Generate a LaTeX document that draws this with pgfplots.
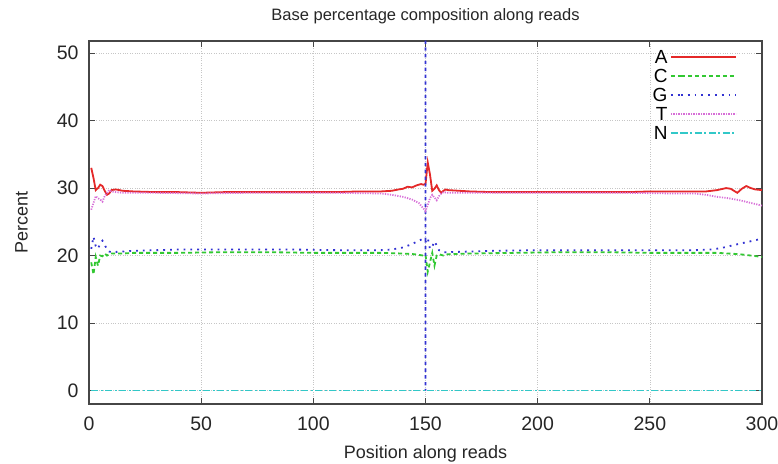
\documentclass[border=0pt]{standalone}
\usepackage{pgfplots}
\pgfplotsset{compat=1.18}
\usepackage{fontspec}
\setmainfont{Liberation Sans}
\definecolor{cA}{RGB}{228,40,40}
\definecolor{cC}{RGB}{50,200,50}
\definecolor{cG}{RGB}{50,50,210}
\definecolor{cT}{RGB}{215,110,215}
\definecolor{cN}{RGB}{50,200,200}
\definecolor{axc}{RGB}{70,70,70}
\begin{document}
\begin{tikzpicture}
\begin{axis}[
  scale only axis,
  width=673pt, height=363pt,
  xmin=0, xmax=300, ymin=-2, ymax=51.8,
  xtick={0,50,...,300}, ytick={0,10,...,50},
  tick align=inside,
  major tick length=6pt,
  every tick/.style={axc, line width=1pt},
  axis line style={axc, line width=1.6pt},
  grid=major,
  major grid style={gray!45, dotted, line width=0.6pt},
  /pgf/number format/assume math mode=true,
  tick label style={font=\fontsize{19.5}{19.5}\selectfont, text=black!85},
  xticklabel style={yshift=-9pt},
  yticklabel style={xshift=-7pt},
  title={Base percentage composition along reads},
  title style={font=\fontsize{16.5}{17}\selectfont, text=black!85, yshift=8pt},
  xlabel={Position along reads},
  ylabel={Percent},
  label style={font=\fontsize{18}{18}\selectfont, text=black!85},
  xlabel style={yshift=-8pt},
  ylabel style={yshift=22pt},
  legend plot pos=right,
  legend cell align=right,
  legend style={at={(1,1)}, anchor=north east, xshift=-22pt, yshift=-4pt,
    draw=none, fill=none, font=\fontsize{19}{19}\selectfont,
    row sep=0pt, nodes={inner sep=2.5pt, text height=14pt, text depth=0pt}},
  legend image code/.code={\path (0pt,0pt) -- (10pt,0pt);\draw[#1] (10pt,0pt) -- (65pt,0pt);},
]
\addplot[cA, line width=1.8pt] coordinates {
(1,33.0) (2,31.5) (3,29.7) (4,30.0) (5,30.5) (6,30.3) (7,29.6) (8,29.0) (9,29.2) (10,29.7)
(12,29.8) (15,29.6) (20,29.5) (30,29.4) (40,29.4) (50,29.3) (60,29.4) (70,29.4) (80,29.4)
(90,29.4) (100,29.4) (110,29.4) (120,29.5) (130,29.5) (135,29.6) (138,29.8) (140,29.9)
(142,30.2) (144,30.1) (146,30.4) (148,30.6) (149,30.5) (150,30.6) (151,33.8) (152,32.0)
(153,29.6) (154,29.9) (155,30.4) (156,29.7) (157,29.3) (158,29.6) (159,29.8) (160,29.7)
(165,29.6) (170,29.5) (180,29.4) (190,29.4) (200,29.4) (210,29.4) (220,29.4) (230,29.4)
(240,29.4) (250,29.5) (260,29.5) (270,29.5) (275,29.5) (280,29.7) (284,30.0) (286,29.9)
(289,29.3) (291,29.9) (293,30.3) (295,30.0) (297,29.8) (300,29.7)
};
\addlegendentry{A}
\addplot[color=cC, line width=1.8pt, dash pattern=on 4pt off 3pt] coordinates {
(1,19.0) (2,17.2) (3,19.8) (4,18.5) (5,20.0) (6,19.9) (7,20.3) (8,20.0) (9,20.2) (10,20.3)
(15,20.3) (20,20.4) (40,20.4) (60,20.5) (80,20.5) (100,20.4) (120,20.4) (130,20.4)
(140,20.3) (145,20.2) (149,20.0) (150,20.1) (151,17.6) (152,19.0) (153,20.4) (154,18.5)
(155,20.0) (156,20.2) (158,20.0) (160,20.2) (170,20.3) (190,20.4) (210,20.5) (230,20.5)
(250,20.4) (270,20.4) (280,20.4) (285,20.3) (290,20.2) (295,20.0) (300,19.8)
};
\addlegendentry{C}
\addplot[color=cG, line width=1.8pt, dash pattern=on 1.8pt off 5pt] coordinates {
(1,21.0) (2,22.8) (3,21.4) (4,21.0) (5,21.8) (6,22.2) (7,21.6) (8,20.9) (9,20.6) (10,20.5)
(15,20.6) (20,20.7) (30,20.8) (40,20.9) (50,20.9) (70,20.9) (90,20.9) (110,20.8) (130,20.8)
(135,20.9) (140,21.2) (144,21.7) (147,22.2) (149,22.5) (150,22.3) (150,100) (150,0) (150,22.0) (151,22.6)
(152,21.0) (153,21.3) (154,22.1) (155,21.5) (156,20.8) (158,20.5) (160,20.5) (170,20.6)
(180,20.7) (200,20.8) (220,20.8) (240,20.8) (260,20.8) (270,20.8) (278,20.9) (283,21.2)
(288,21.6) (292,21.9) (296,22.2) (300,22.5)
};
\addlegendentry{G}
\addplot[color=cT, line width=1.8pt, dash pattern=on 1.2pt off 1.3pt] coordinates {
(1,26.8) (2,27.8) (3,28.8) (4,28.5) (5,28.3) (6,28.0) (7,28.8) (8,29.3) (9,29.7) (10,29.5)
(12,29.4) (15,29.3) (30,29.3) (50,29.2) (70,29.3) (90,29.3) (110,29.3) (130,29.2)
(135,29.0) (140,28.7) (144,28.3) (147,27.8) (149,27.0) (150,26.6) (151,27.5) (152,28.5)
(153,29.0) (154,28.6) (155,28.2) (156,28.8) (157,29.2) (158,29.4) (160,29.3) (180,29.3)
(200,29.3) (220,29.3) (240,29.3) (260,29.2) (270,29.2) (275,29.0) (280,28.7) (285,28.5)
(290,28.2) (295,27.8) (300,27.4)
};
\addlegendentry{T}
\addplot[color=cN, line width=1.8pt, dash pattern=on 7pt off 2.5pt on 2pt off 2.5pt] coordinates {
(1,0) (300,0)
};
\addlegendentry{N}
\end{axis}
\pgfresetboundingbox
\path (current axis.south west) ++(-89pt,-60pt) rectangle ([xshift=16pt,yshift=41pt]current axis.north east);
\end{tikzpicture}
\end{document}
